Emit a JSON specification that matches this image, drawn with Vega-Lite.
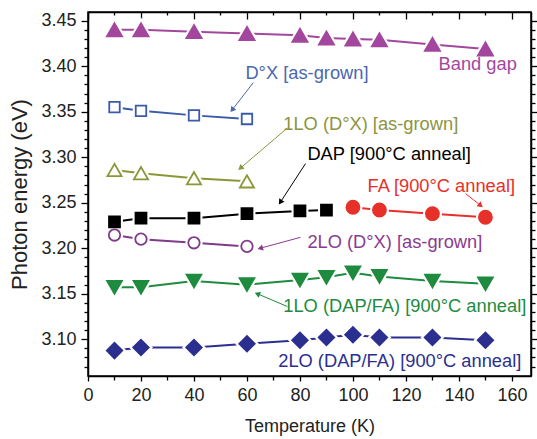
{
 "$schema": "https://vega.github.io/schema/vega-lite/v6.json",
 "width": 443, "height": 364,
 "autosize": "none",
 "padding": {"left": 88, "top": 12, "right": 6, "bottom": 63},
 "background": "white",
 "config": {
  "font": "Liberation Sans",
  "view": {"stroke": "black", "strokeWidth": 1.5},
  "axis": {"domainColor": "black", "tickColor": "black", "labelColor": "#222", "grid": false, "labelFontSize": 18, "titleFontSize": 18, "titleFontWeight": "normal", "titleColor": "#222", "domainWidth": 1.5, "tickWidth": 1.3, "labelOverlap": false, "labelFlush": false}
 },
 "datasets": {
  "pts": [
   {"s": "Band gap", "T": 10, "E": 3.440}, {"s": "Band gap", "T": 20, "E": 3.440}, {"s": "Band gap", "T": 40, "E": 3.438}, {"s": "Band gap", "T": 60, "E": 3.436}, {"s": "Band gap", "T": 80, "E": 3.434}, {"s": "Band gap", "T": 90, "E": 3.431}, {"s": "Band gap", "T": 100, "E": 3.430}, {"s": "Band gap", "T": 110, "E": 3.429}, {"s": "Band gap", "T": 130, "E": 3.424}, {"s": "Band gap", "T": 150, "E": 3.419},
   {"s": "DX", "T": 10, "E": 3.355}, {"s": "DX", "T": 20, "E": 3.351}, {"s": "DX", "T": 40, "E": 3.346}, {"s": "DX", "T": 60, "E": 3.342},
   {"s": "1LO DX", "T": 10, "E": 3.286}, {"s": "1LO DX", "T": 20, "E": 3.2825}, {"s": "1LO DX", "T": 40, "E": 3.277}, {"s": "1LO DX", "T": 60, "E": 3.2735},
   {"s": "DAP", "T": 10, "E": 3.229}, {"s": "DAP", "T": 20, "E": 3.233}, {"s": "DAP", "T": 40, "E": 3.233}, {"s": "DAP", "T": 60, "E": 3.238}, {"s": "DAP", "T": 80, "E": 3.241}, {"s": "DAP", "T": 90, "E": 3.242},
   {"s": "FA", "T": 100, "E": 3.245}, {"s": "FA", "T": 110, "E": 3.242}, {"s": "FA", "T": 130, "E": 3.238}, {"s": "FA", "T": 150, "E": 3.234},
   {"s": "2LO DX", "T": 10, "E": 3.2145}, {"s": "2LO DX", "T": 20, "E": 3.210}, {"s": "2LO DX", "T": 40, "E": 3.206}, {"s": "2LO DX", "T": 60, "E": 3.202},
   {"s": "1LO DAP/FA", "T": 10, "E": 3.157}, {"s": "1LO DAP/FA", "T": 20, "E": 3.157}, {"s": "1LO DAP/FA", "T": 40, "E": 3.164}, {"s": "1LO DAP/FA", "T": 60, "E": 3.160}, {"s": "1LO DAP/FA", "T": 80, "E": 3.165}, {"s": "1LO DAP/FA", "T": 90, "E": 3.168}, {"s": "1LO DAP/FA", "T": 100, "E": 3.173}, {"s": "1LO DAP/FA", "T": 110, "E": 3.169}, {"s": "1LO DAP/FA", "T": 130, "E": 3.164}, {"s": "1LO DAP/FA", "T": 150, "E": 3.161},
   {"s": "2LO DAP/FA", "T": 10, "E": 3.0875}, {"s": "2LO DAP/FA", "T": 20, "E": 3.091}, {"s": "2LO DAP/FA", "T": 40, "E": 3.091}, {"s": "2LO DAP/FA", "T": 60, "E": 3.095}, {"s": "2LO DAP/FA", "T": 80, "E": 3.099}, {"s": "2LO DAP/FA", "T": 90, "E": 3.102}, {"s": "2LO DAP/FA", "T": 100, "E": 3.105}, {"s": "2LO DAP/FA", "T": 110, "E": 3.102}, {"s": "2LO DAP/FA", "T": 130, "E": 3.102}, {"s": "2LO DAP/FA", "T": 150, "E": 3.099}
  ],
  "labels": [
   {"s": "DX", "txt": "D°X [as-grown]", "T": 59.4, "E": 3.391},
   {"s": "Band gap", "txt": "Band gap", "T": 132.3, "E": 3.4015},
   {"s": "1LO DX", "txt": "1LO (D°X) [as-grown]", "T": 73.7, "E": 3.335},
   {"s": "DAP", "txt": "DAP [900°C anneal]", "T": 82.8, "E": 3.302},
   {"s": "FA", "txt": "FA [900°C anneal]", "T": 105.5, "E": 3.267},
   {"s": "2LO DX", "txt": "2LO (D°X) [as-grown]", "T": 82.8, "E": 3.206},
   {"s": "1LO DAP/FA", "txt": "1LO (DAP/FA) [900°C anneal]", "T": 73.7, "E": 3.135},
   {"s": "2LO DAP/FA", "txt": "2LO (DAP/FA) [900°C anneal]", "T": 71.8, "E": 3.0755}
  ],
  "arrows": [
   {"s": "DX", "T": 54.4, "E": 3.352, "T2": 62.4, "E2": 3.382},
   {"s": "1LO DX", "T": 57.5, "E": 3.288, "T2": 75.2, "E2": 3.332},
   {"s": "DAP", "T": 72.6, "E": 3.2505, "T2": 82.1, "E2": 3.293},
   {"s": "FA", "T": 148.2, "E": 3.247, "T2": 142.5, "E2": 3.260},
   {"s": "2LO DX", "T": 65.0, "E": 3.200, "T2": 80.2, "E2": 3.212},
   {"s": "1LO DAP/FA", "T": 63.9, "E": 3.150, "T2": 75.2, "E2": 3.136}
  ]
 },
 "layer": [
  {
   "encoding": {
    "x": {"field": "T", "type": "quantitative", "title": "Temperature (K)",
     "scale": {"domain": [0, 167.2], "nice": false, "zero": false},
     "axis": {"orient": "bottom", "values": [0,10,20,30,40,50,60,70,80,90,100,110,120,130,140,150,160], "labelExpr": "datum.value % 20 == 0 ? datum.value : ''", "tickSize": {"condition": {"test": "datum.value % 20 == 0", "value": 5}, "value": 4}, "labelPadding": 5, "titlePadding": 13}},
    "y": {"field": "E", "type": "quantitative", "title": "Photon energy (eV)",
     "scale": {"domain": [3.0596, 3.4596], "nice": false, "zero": false},
     "axis": {"orient": "left", "titleFontSize": 22, "values": [3.07,3.08,3.09,3.1,3.11,3.12,3.13,3.14,3.15,3.16,3.17,3.18,3.19,3.2,3.21,3.22,3.23,3.24,3.25,3.26,3.27,3.28,3.29,3.3,3.31,3.32,3.33,3.34,3.35,3.36,3.37,3.38,3.39,3.4,3.41,3.42,3.43,3.44,3.45], "labelExpr": "round(datum.value*100) % 5 == 0 ? format(datum.value, '.2f') : ''", "tickSize": {"condition": {"test": "round(datum.value*100) % 5 == 0", "value": 7}, "value": 4}, "labelPadding": 5, "titlePadding": 9}}
   },
   "layer": [
    {"data": {"name": "pts"}, "mark": {"type": "line", "strokeWidth": 2},
     "encoding": {"detail": {"field": "s"}, "stroke": {"field": "s", "type": "nominal", "legend": null,
      "scale": {"domain": ["Band gap","DX","1LO DX","DAP","FA","2LO DX","1LO DAP/FA","2LO DAP/FA"], "range": ["#A3479E","#3A5AAA","#8C9638","#000000","#E8302A","#7F3A8A","#1E8B3E","#2B2F8F"]}}}},
    {"data": {"name": "pts"}, "mark": {"type": "point", "filled": true, "fill": "white", "stroke": "white", "strokeWidth": 6, "opacity": 1},
     "encoding": {
      "shape": {"field": "s", "type": "nominal", "legend": null, "scale": {"domain": ["Band gap","DX","1LO DX","DAP","FA","2LO DX","1LO DAP/FA","2LO DAP/FA"], "range": ["triangle-up","square","triangle-up","square","circle","circle","triangle-down","diamond"]}},
      "size": {"field": "s", "type": "nominal", "legend": null, "scale": {"type": "ordinal", "domain": ["Band gap","DX","1LO DX","DAP","FA","2LO DX","1LO DAP/FA","2LO DAP/FA"], "range": [230,110,200,120,170,130,220,240]}}}},
    {"data": {"name": "pts"}, "mark": {"type": "point", "filled": true, "strokeWidth": 1.8, "opacity": 1},
     "encoding": {
      "shape": {"field": "s", "type": "nominal", "legend": null, "scale": {"domain": ["Band gap","DX","1LO DX","DAP","FA","2LO DX","1LO DAP/FA","2LO DAP/FA"], "range": ["triangle-up","square","triangle-up","square","circle","circle","triangle-down","diamond"]}},
      "size": {"field": "s", "type": "nominal", "legend": null, "scale": {"type": "ordinal", "domain": ["Band gap","DX","1LO DX","DAP","FA","2LO DX","1LO DAP/FA","2LO DAP/FA"], "range": [230,110,200,120,170,130,220,240]}},
      "fill": {"field": "s", "type": "nominal", "legend": null, "scale": {"domain": ["Band gap","DX","1LO DX","DAP","FA","2LO DX","1LO DAP/FA","2LO DAP/FA"], "range": ["#A3479E","#FFFFFF","#FFFFFF","#000000","#E8302A","#FFFFFF","#1E8B3E","#2B2F8F"]}},
      "stroke": {"field": "s", "type": "nominal", "legend": null}}},
    {"data": {"name": "arrows"}, "mark": {"type": "rule", "strokeWidth": 1},
     "encoding": {"x2": {"field": "T2"}, "y2": {"field": "E2"}, "color": {"field": "s", "type": "nominal", "legend": null,
      "scale": {"domain": ["Band gap","DX","1LO DX","DAP","FA","2LO DX","1LO DAP/FA","2LO DAP/FA"], "range": ["#A3479E","#4A68B0","#8C9440","#000000","#E8302A","#8A3A92","#1E8B3E","#2B2F8F"]}}}},
    {"data": {"name": "arrows"}, "transform": [{"filter": "datum.s == 'DX'"}], "mark": {"type": "point", "shape": "triangle-up", "filled": true, "opacity": 1, "size": 40, "angle": 217}, "encoding": {"color": {"field": "s", "type": "nominal", "legend": null}}},
    {"data": {"name": "arrows"}, "transform": [{"filter": "datum.s == '1LO DX'"}], "mark": {"type": "point", "shape": "triangle-up", "filled": true, "opacity": 1, "size": 40, "angle": 230}, "encoding": {"color": {"field": "s", "type": "nominal", "legend": null}}},
    {"data": {"name": "arrows"}, "transform": [{"filter": "datum.s == 'DAP'"}], "mark": {"type": "point", "shape": "triangle-up", "filled": true, "opacity": 1, "size": 40, "angle": 213}, "encoding": {"color": {"field": "s", "type": "nominal", "legend": null}}},
    {"data": {"name": "arrows"}, "transform": [{"filter": "datum.s == 'FA'"}], "mark": {"type": "point", "shape": "triangle-up", "filled": true, "opacity": 1, "size": 40, "angle": 130}, "encoding": {"color": {"field": "s", "type": "nominal", "legend": null}}},
    {"data": {"name": "arrows"}, "transform": [{"filter": "datum.s == '2LO DX'"}], "mark": {"type": "point", "shape": "triangle-up", "filled": true, "opacity": 1, "size": 40, "angle": 255}, "encoding": {"color": {"field": "s", "type": "nominal", "legend": null}}},
    {"data": {"name": "arrows"}, "transform": [{"filter": "datum.s == '1LO DAP/FA'"}], "mark": {"type": "point", "shape": "triangle-up", "filled": true, "opacity": 1, "size": 40, "angle": 293}, "encoding": {"color": {"field": "s", "type": "nominal", "legend": null}}},
    {"data": {"name": "labels"}, "mark": {"type": "text", "align": "left", "baseline": "middle", "fontSize": 18.3},
     "encoding": {"text": {"field": "txt"}, "color": {"field": "s", "type": "nominal", "legend": null}}}
   ]
  },
  {
   "data": {"name": "pts"},
   "mark": {"type": "point", "opacity": 0},
   "encoding": {
    "x": {"field": "T", "type": "quantitative", "title": null, "axis": {"orient": "top", "labels": false, "values": [0,10,20,30,40,50,60,70,80,90,100,110,120,130,140,150,160], "tickSize": {"condition": {"test": "datum.value % 20 == 0", "value": -7}, "value": -3}}},
    "y": {"field": "E", "type": "quantitative", "title": null, "axis": {"orient": "right", "labels": false, "values": [3.07,3.08,3.09,3.1,3.11,3.12,3.13,3.14,3.15,3.16,3.17,3.18,3.19,3.2,3.21,3.22,3.23,3.24,3.25,3.26,3.27,3.28,3.29,3.3,3.31,3.32,3.33,3.34,3.35,3.36,3.37,3.38,3.39,3.4,3.41,3.42,3.43,3.44,3.45], "tickSize": {"condition": {"test": "round(datum.value*100) % 5 == 0", "value": 6}, "value": 4}}}
   }
  }
 ],
 "resolve": {"axis": {"x": "independent", "y": "independent"}}
}
